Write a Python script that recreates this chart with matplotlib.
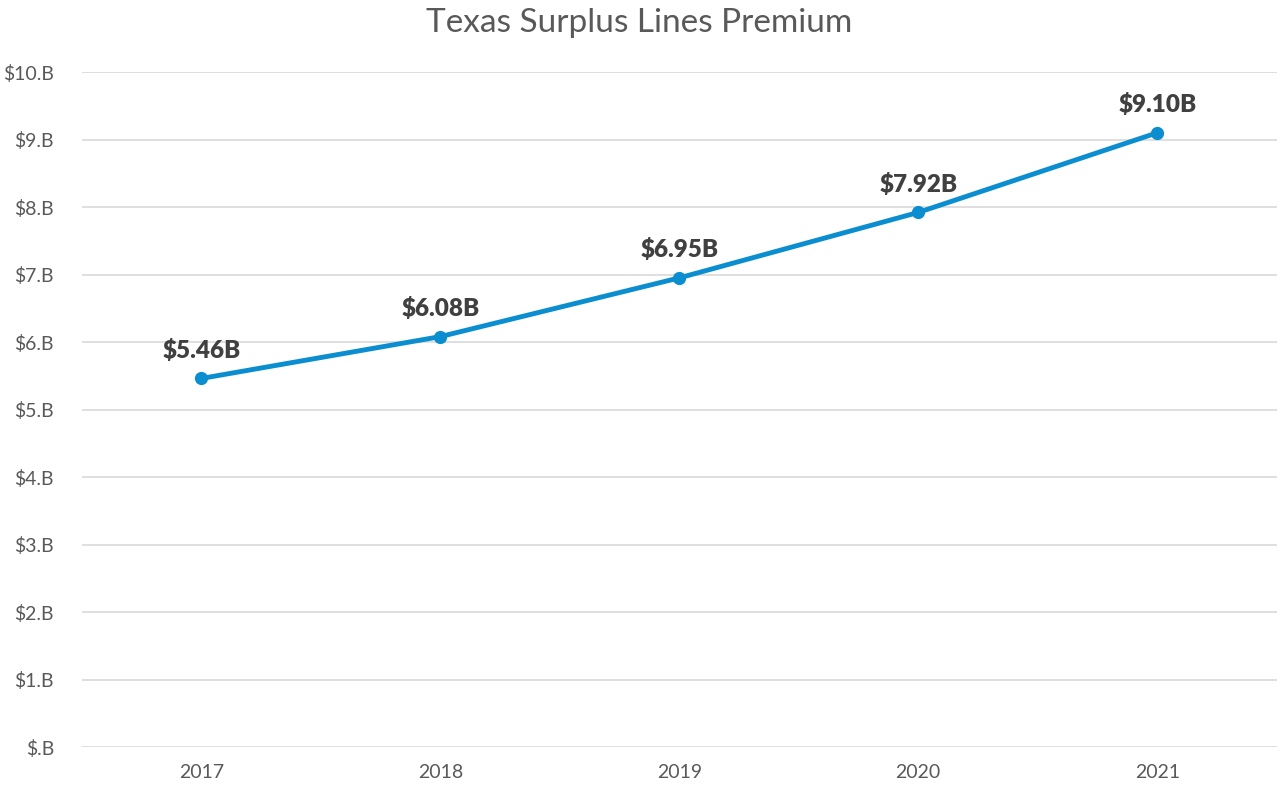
import matplotlib
matplotlib.use("Agg")
import matplotlib.pyplot as plt
from matplotlib.ticker import FuncFormatter

years = ["2017", "2018", "2019", "2020", "2021"]
premium = [5.46, 6.08, 6.95, 7.92, 9.10]  # billions USD
labels = ["$5.46B", "$6.08B", "$6.95B", "$7.92B", "$9.10B"]

plt.rcParams['font.family'] = ['Lato', 'DejaVu Sans']

fig = plt.figure(figsize=(12.78, 7.88), dpi=100)
ax = fig.add_axes([0.064, 0.052, 0.935, 0.8566])

x = list(range(len(years)))
ax.plot(x, premium, color='#0A8ECF', lw=3.5, marker='o', ms=8.5,
        solid_capstyle='round', zorder=3)

for xi, yi, lab in zip(x, premium, labels):
    ax.annotate(lab, (xi, yi), xytext=(0, 12), textcoords='offset points',
                ha='center', va='bottom', fontsize=17.5, fontweight='heavy',
                color='#404040')

ax.set_xlim(-0.5, len(years) - 0.5)
ax.set_ylim(0, 10)
ax.set_yticks(range(0, 11))
ax.yaxis.set_major_formatter(FuncFormatter(lambda v, p: "$.B" if v == 0 else f"${int(v)}.B"))
ax.set_xticks(x)
ax.set_xticklabels(years)

ax.grid(axis='y', color='#d9d9d9', lw=1.2)
ax.set_axisbelow(True)
for s in ax.spines.values():
    s.set_visible(False)
ax.tick_params(axis='both', length=0, labelsize=14, labelcolor='#595959')
ax.tick_params(axis='y', pad=20)
ax.tick_params(axis='x', pad=12)

fig.suptitle("Texas Surplus Lines Premium", y=0.99, fontsize=24, color='#595959')

fig.savefig("out.png", dpi=100, facecolor='white')
